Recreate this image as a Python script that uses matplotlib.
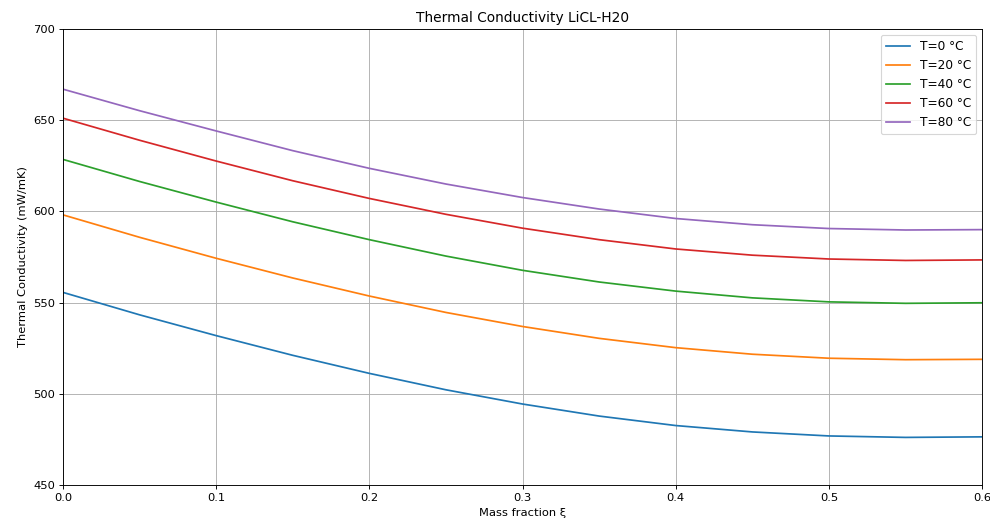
import matplotlib
matplotlib.use("Agg")
import matplotlib.pyplot as plt

xi = [0.0, 0.05, 0.10, 0.15, 0.20, 0.25, 0.30, 0.35, 0.40, 0.45, 0.50, 0.55, 0.60]
k_T0 = [555.6, 543.3, 531.9, 521.1, 511.2, 502.2, 494.4, 487.8, 482.6, 479.1, 476.9, 476.1, 476.4]
k_T20 = [598.1, 585.8, 574.3, 563.5, 553.6, 544.6, 536.9, 530.4, 525.3, 521.7, 519.5, 518.7, 518.9]
k_T40 = [628.5, 616.4, 605.1, 594.3, 584.5, 575.5, 567.7, 561.3, 556.3, 552.6, 550.4, 549.6, 549.9]
k_T60 = [651.1, 639.0, 627.6, 616.8, 607.1, 598.4, 590.8, 584.5, 579.4, 576.0, 573.9, 573.1, 573.4]
k_T80 = [667.0, 655.2, 644.1, 633.3, 623.6, 615.0, 607.6, 601.3, 596.1, 592.7, 590.6, 589.8, 590.0]
series = [("T=0 °C", k_T0), ("T=20 °C", k_T20), ("T=40 °C", k_T40),
          ("T=60 °C", k_T60), ("T=80 °C", k_T80)]

scale = 0.825
fig = plt.figure(figsize=(9.9 / scale, 5.24 / scale), dpi=100 * scale)
ax = fig.add_axes([0.0636, 0.0744, 0.9284, 0.8703])
for lbl, ys in series:
    ax.plot(xi, ys, label=lbl)
ax.set_xlim(0, 0.6)
ax.set_ylim(450, 700)
ax.set_xticks([0.0, 0.1, 0.2, 0.3, 0.4, 0.5, 0.6])
ax.set_yticks([450, 500, 550, 600, 650, 700])
ax.grid(True)
ax.set_title("Thermal Conductivity LiCL-H20", fontsize=12)
ax.set_xlabel("Mass fraction ξ")
ax.set_ylabel("Thermal Conductivity (mW/mK)")
ax.legend(loc="upper right", fontsize=10.6)
fig.savefig("out.png", dpi=100 * scale)
